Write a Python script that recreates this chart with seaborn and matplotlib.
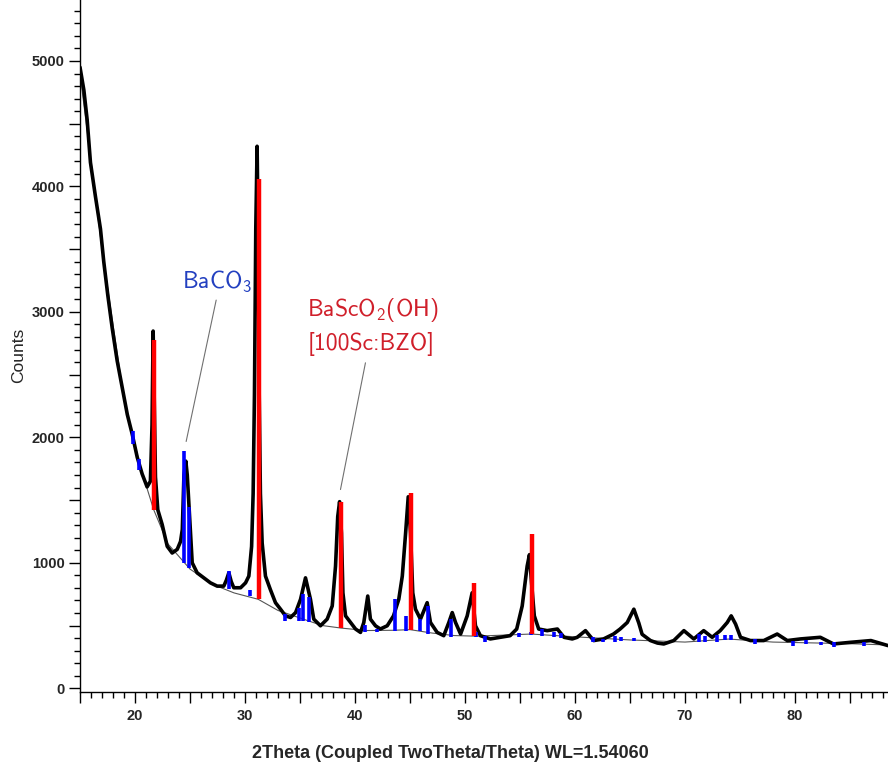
import numpy as np
import pandas as pd
import matplotlib
matplotlib.use("Agg")
import matplotlib.pyplot as plt
import seaborn as sns
from matplotlib.ticker import MultipleLocator

# ---------------- data ----------------
two_theta = [15.0, 15.35, 15.65, 15.95, 16.4, 16.86, 17.16, 17.53, 17.93, 18.38,
             18.84, 19.3, 19.75, 20.2, 20.65, 21.1, 21.4, 21.55, 21.65, 21.75,
             21.86, 22.07, 22.47, 22.93, 23.38, 23.84, 24.14, 24.3, 24.45, 24.62,
             24.75, 24.86, 25.05, 25.2, 25.65, 26.25, 26.86, 27.47, 28.07, 28.3,
             28.53, 28.75, 28.98, 29.6, 30.05, 30.35, 30.6, 30.74, 30.86, 30.98,
             31.1, 31.23, 31.29, 31.4, 31.56, 31.86, 32.3, 32.77, 33.23, 33.68,
             34.14, 34.6, 35.05, 35.5, 35.95, 36.25, 36.86, 37.47, 37.93, 38.23,
             38.43, 38.6, 38.77, 38.9, 39.14, 39.6, 40.05, 40.5, 40.8, 41.16,
             41.4, 41.86, 42.3, 42.93, 43.5, 43.98, 44.3, 44.6, 44.84, 45.05,
             45.25, 45.5, 45.95, 46.56, 46.86, 47.47, 48.07, 48.53, 48.84, 49.14,
             49.6, 50.2, 50.65, 50.95, 51.4, 52.3, 53.2, 54.1, 54.7, 55.2,
             55.65, 55.86, 56.05, 56.3, 56.7, 57.47, 58.4, 59.0, 59.75, 60.2,
             60.95, 61.7, 62.6, 63.5, 64.1, 64.75, 65.35, 65.8, 66.1, 66.86,
             67.5, 68.07, 68.98, 69.9, 70.8, 71.7, 72.47, 73.2, 73.84, 74.2,
             74.6, 75.05, 75.95, 77.16, 78.38, 79.3, 80.5, 82.3, 83.5, 85.05,
             86.9, 88.45]
counts = [4950, 4768, 4531, 4191, 3922, 3661, 3400, 3131, 2870, 2610,
          2396, 2182, 2024, 1842, 1708, 1605, 1650, 2100, 2847, 2300,
          1684, 1423, 1305, 1131, 1078, 1107, 1170, 1265, 1700, 1810,
          1700, 1526, 1210, 1000, 920, 880, 840, 814, 814, 860,
          920, 850, 801, 801, 840, 894, 1130, 1552, 2343, 3661,
          4320, 3400, 2343, 1552, 1157, 894, 788, 682, 630, 577,
          564, 603, 709, 880, 709, 551, 498, 551, 656, 973,
          1368, 1487, 1236, 761, 577, 524, 472, 445, 524, 735,
          551, 498, 472, 498, 577, 709, 894, 1236, 1526, 1236,
          761, 630, 551, 682, 524, 445, 419, 524, 603, 524,
          432, 577, 761, 498, 419, 393, 406, 419, 472, 656,
          973, 1065, 840, 577, 472, 459, 472, 406, 393, 406,
          459, 380, 393, 432, 472, 524, 630, 520, 430, 380,
          360, 353, 380, 459, 393, 459, 406, 459, 524, 577,
          511, 406, 380, 380, 432, 380, 393, 406, 353, 366,
          380, 340]

# background (fitted baseline)
bg_theta = [15.0, 17.0, 19.0, 20.5, 21.7, 23.0, 25.0, 27.0, 29.0, 31.2,
            33.0, 35.0, 37.0, 38.7, 41.0, 43.5, 45.0, 47.0, 49.0, 51.0,
            54.0, 56.0, 60.0, 65.0, 70.0, 74.0, 78.0, 85.0, 88.45]
bg_counts = [4900, 3500, 2300, 1760, 1423, 1150, 950, 830, 760, 709,
             620, 560, 500, 480, 460, 462, 467, 440, 420, 415,
             425, 432, 410, 385, 368, 392, 368, 355, 345]

# BaScO2(OH) reference pattern (red sticks)
red_pos = [21.7, 31.23, 38.7, 45.07, 50.8, 56.1]
red_top = [2775, 4057, 1487, 1558, 836, 1231]
red_bottom = [1423, 709, 480, 467, 419, 432]

# BaCO3 reference pattern (blue sticks)
blue_pos = [19.84, 20.35, 24.44, 24.9, 28.53, 30.44, 33.6, 34.9, 35.3, 35.8,
            40.95, 42.0, 43.62, 44.65, 45.95, 46.65, 48.75, 51.0, 51.86, 54.9,
            56.0, 57.0, 58.07, 58.74, 61.66, 62.56, 63.6, 64.2, 65.35, 71.26,
            71.86, 72.93, 73.68, 74.2, 76.4, 79.84, 81.0, 82.4, 83.5, 86.25]
blue_top = [2050, 1830, 1890, 1447, 933, 783, 593, 643, 749, 728,
            504, 472, 709, 577, 551, 656, 551, 445, 414, 440,
            445, 472, 451, 440, 406, 393, 414, 406, 398, 432,
            419, 425, 425, 425, 393, 380, 388, 372, 366, 366]
blue_bottom = [1950, 1740, 1000, 960, 793, 735, 538, 538, 538, 524,
               445, 445, 459, 459, 459, 432, 406, 406, 372, 406,
               425, 419, 406, 398, 366, 366, 372, 380, 380, 366,
               372, 372, 388, 388, 353, 340, 353, 345, 327, 334]

x_ticks = [15, 20, 25, 30, 35, 40, 45, 50, 55, 60, 65, 70, 75, 80, 85]
x_tick_labels = ["", "20", "", "30", "", "40", "", "50", "", "60", "", "70", "", "80", ""]
y_ticks = [0, 500, 1000, 1500, 2000, 2500, 3000, 3500, 4000, 4500, 5000]
y_tick_labels = ["0", "", "1000", "", "2000", "", "3000", "", "4000", "", "5000"]

# ---------------- plot ----------------
sns.set_style("ticks")
plt.rcParams["font.family"] = ["Liberation Sans", "DejaVu Sans"]
plt.rcParams["mathtext.fontset"] = "custom"
plt.rcParams["mathtext.rm"] = "cmss10"
plt.rcParams["mathtext.it"] = "cmss10"
plt.rcParams["mathtext.bf"] = "cmss10"
plt.rcParams["mathtext.sf"] = "cmss10"

W, H = 888, 765
fig = plt.figure(figsize=(W / 100, H / 100), dpi=100)
ax = fig.add_axes([80 / W, 73 / H, 808 / W, 692 / H])

sns.lineplot(x=bg_theta, y=bg_counts, ax=ax, color="#555555", lw=0.8,
             estimator=None, sort=False, zorder=1)
df = pd.DataFrame({"2theta": two_theta, "counts": counts})
sns.lineplot(data=df, x="2theta", y="counts", ax=ax, color="black", lw=2.6,
             estimator=None, sort=False, zorder=2)

ax.vlines(blue_pos, blue_bottom, blue_top, colors="#0000ff", lw=2.6, zorder=3)
ax.vlines(red_pos, red_bottom, red_top, colors="#ff0000", lw=3.2, zorder=3)

ax.set_xlim(15, 15 + 808 / 11)
ax.set_ylim(-30, 5486)

ax.set_xticks(x_ticks, labels=x_tick_labels, fontweight="bold", fontsize=10.5)
ax.set_yticks(y_ticks, labels=y_tick_labels, fontweight="bold", fontsize=10.5)
ax.xaxis.set_minor_locator(MultipleLocator(1))
ax.yaxis.set_minor_locator(MultipleLocator(100))
ax.tick_params(which="major", direction="out", length=8, width=1, color="black", pad=3)
ax.tick_params(which="minor", direction="out", length=4.5, width=1, color="black")
ax.tick_params(axis="x", which="major", pad=4)

for s in ["top", "right"]:
    ax.spines[s].set_visible(False)
for s in ["left", "bottom"]:
    ax.spines[s].set_color("black")
    ax.spines[s].set_linewidth(1)

ax.set_xlabel("2Theta (Coupled TwoTheta/Theta) WL=1.54060", fontsize=13,
              fontweight="bold", va="top")
ax.xaxis.set_label_coords(0.458, -0.077)
ax.set_ylabel("Counts", fontsize=12.5)
ax.yaxis.set_label_coords(-0.067, 0.487)

# annotations
ax.text(24.3, 3192, r"BaCO$_3$", color="#2340c0", fontsize=17,
        family="cmss10", ha="left", va="baseline")
ax.text(35.65, 2965, r"BaScO$_2$(OH)", color="#d01f2a", fontsize=17,
        family="cmss10", ha="left", va="baseline")
ax.text(35.65, 2699, "[100Sc:BZO]", color="#d01f2a", fontsize=17,
        family="cmss10", ha="left", va="baseline")
ax.plot([27.38, 24.65], [3094, 1967], color="#707070", lw=0.8, zorder=4)
ax.plot([40.95, 38.68], [2594, 1584], color="#707070", lw=0.8, zorder=4)

fig.savefig("out.png", dpi=100)
